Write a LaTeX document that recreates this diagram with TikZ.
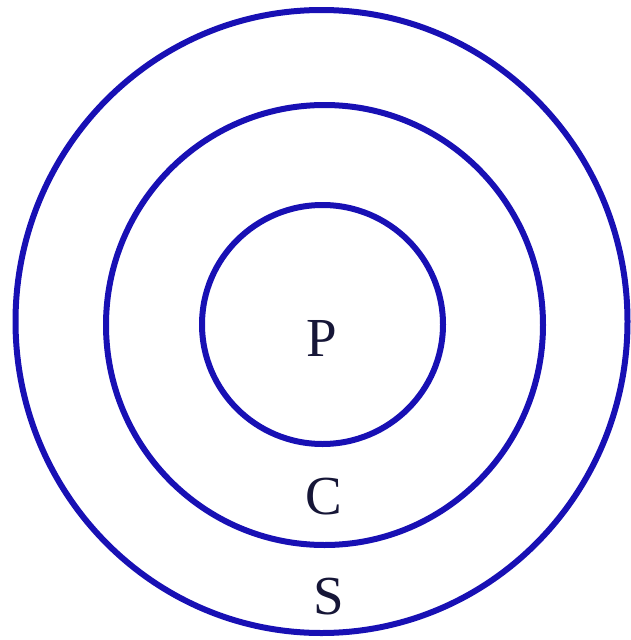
\documentclass[tikz,border=0pt]{standalone}
\usepackage{fontspec}
\setmainfont{Liberation Serif}
\definecolor{ringblue}{RGB}{24,16,180}
\definecolor{labelink}{RGB}{22,22,55}
\begin{document}
\begin{tikzpicture}[x=1pt,y=-1pt,
  ring/.style={draw=ringblue,line width=6pt},
  lbl/.style={text=labelink,font=\fontsize{55}{62}\selectfont,inner sep=0pt}]
\useasboundingbox (0,0) rectangle (631,640);
\draw[ring] (321.5,321.5) ellipse [x radius=306, y radius=311.5];
\draw[ring] (324.5,325) ellipse [x radius=218.5, y radius=220];
\draw[ring] (322.5,324.5) ellipse [x radius=120.5, y radius=119.5];
\node[lbl] (p) at (322,338) {P};
\node[lbl] (c) at (324,497) {C};
\node[lbl] (s) at (329,597) {S};
\end{tikzpicture}
\end{document}
